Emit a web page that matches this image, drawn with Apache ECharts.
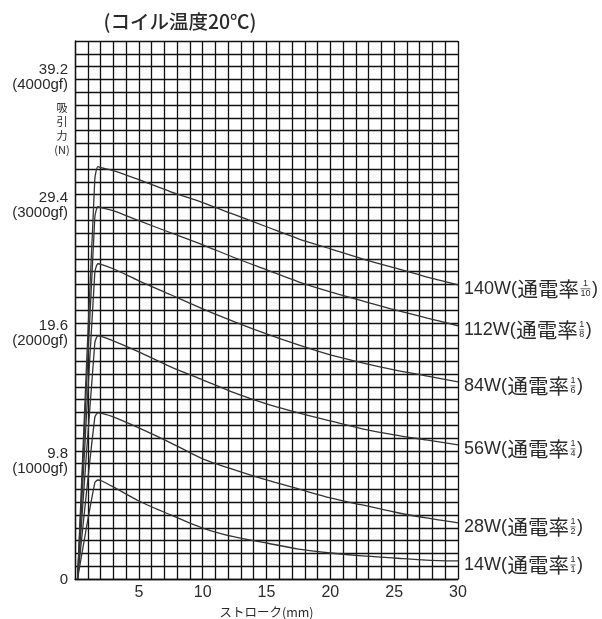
<!DOCTYPE html>
<html>
<head>
<meta charset="utf-8">
<script src="https://cdn.jsdelivr.net/npm/echarts@6/dist/echarts.min.js"></script>
<style>
html,body{margin:0;padding:0;background:#fff;}
#c{width:602px;height:619px;}
</style>
</head>
<body>
<div id="c"></div>
<script>
// ---- data ----
const stroke = [0.2, 1.55, 1.8, 2.1, 3, 5, 7.5, 10, 12.5, 15, 17.5, 20, 22.5, 25, 27.5, 30]; // mm
const force140 = [0, 3120, 3219, 3210, 3188, 3117, 3023, 2938, 2844, 2750, 2656, 2578, 2500, 2430, 2359, 2297]; // gf
const force112 = [0, 2820, 2906, 2898, 2875, 2797, 2703, 2609, 2508, 2414, 2320, 2242, 2172, 2102, 2039, 1977];
const force84  = [0, 2390, 2461, 2455, 2422, 2328, 2219, 2109, 2008, 1914, 1828, 1750, 1688, 1633, 1586, 1539];
const force56  = [0, 1840, 1898, 1893, 1859, 1773, 1656, 1555, 1453, 1367, 1297, 1234, 1172, 1125, 1086, 1047];
const force28  = [0, 1260, 1297, 1293, 1266, 1180, 1063, 938, 852, 773, 703, 633, 578, 523, 477, 438];
const force14  = [0, 750, 773, 765, 719, 609, 500, 398, 328, 281, 234, 203, 180, 164, 148, 141];
const seriesNames = ['140W', '112W', '84W', '56W', '28W', '14W'];
const dutyNum = ['1', '1', '1', '1', '1', '1'];
const dutyDen = ['10', '8', '6', '4', '2', '1'];
const xTickLabels = ['5', '10', '15', '20', '25', '30'];
const yTickN = ['0', '9.8', '19.6', '29.4', '39.2'];
const yTickGf = ['', '(1000gf)', '(2000gf)', '(3000gf)', '(4000gf)'];
const titleText = '(コイル温度20℃)';
const xName = 'ストローク(mm)';
const yName = '吸\n引\n力\n(N)';
const dutyWord = '通電率';

const forces = [force140, force112, force84, force56, force28, force14];
const FONT = "'Liberation Sans', Arial, 'Noto Sans CJK JP', sans-serif";
const JFONT = "'Noto Sans CJK JP', sans-serif";
const INK = '#2a2a2a';

const chart = echarts.init(document.getElementById('c'));

const option = {
  animation: false,
  backgroundColor: '#fff',
  grid: { left: 75, right: 144, top: 41, bottom: 40, outerBoundsMode: 'none', containLabel: false },
  xAxis: {
    type: 'value', min: 0, max: 30, interval: 1,
    axisLine: { show: true, lineStyle: { color: '#111', width: 1.3 } },
    axisTick: { show: false },
    splitLine: { show: true, lineStyle: { color: '#111', width: 1.3 } },
    axisLabel: {
      margin: 6, fontSize: 16, color: INK, fontFamily: FONT,
      formatter: v => {
        const i = xTickLabels.indexOf(String(v));
        return i >= 0 ? xTickLabels[i] : '';
      }
    },
    name: xName, nameLocation: 'middle', nameGap: 27,
    nameTextStyle: { fontSize: 12.5, color: INK, fontFamily: JFONT }
  },
  yAxis: {
    type: 'value', min: 0, max: 4200, interval: 100,
    axisLine: { show: true, lineStyle: { color: '#111', width: 1.3 } },
    axisTick: { show: false },
    splitLine: { show: true, lineStyle: { color: '#111', width: 1.3 } },
    axisLabel: {
      margin: 7, color: INK, fontFamily: FONT, align: 'right', verticalAlign: 'top',
      formatter: v => {
        if (v % 1000 !== 0) return '';
        const k = v / 1000;
        if (k === 0) return '{z|' + yTickN[0] + '}';
        return '{a|' + yTickN[k] + '}\n{b|' + yTickGf[k] + '}';
      },
      rich: {
        z: { fontSize: 15, lineHeight: 2, color: INK, fontFamily: FONT },
        a: { fontSize: 15, lineHeight: 6, color: INK, fontFamily: FONT },
        b: { fontSize: 15, lineHeight: 24, color: INK, fontFamily: FONT }
      }
    }
  },
  series: forces.map((f, i) => ({
    name: seriesNames[i],
    type: 'line',
    data: stroke.map((x, j) => [x, f[j]]),
    showSymbol: false,
    smooth: 0.25,
    lineStyle: { color: '#333', width: 1.3 },
    z: 5
  }))
};
chart.setOption(option);

// ---- labels (text positioned through the chart's own scale) ----
const cv = document.createElement('canvas').getContext('2d');
function tw(text, size, fam) { cv.font = size + 'px ' + (fam || FONT); return cv.measureText(text).width; }

const MAIN = 18, CJK = 20.5, FR = 9;
const g = [];
g.push({ type: 'text', x: 180, y: 22, style: { text: titleText, fontSize: 19.5, fontWeight: 500, fontFamily: JFONT, fill: INK, textAlign: 'center', textVerticalAlign: 'middle' } });
g.push({ type: 'text', x: 62, y: 101, style: { text: yName, fontSize: 11, lineHeight: 14, fontFamily: JFONT, fill: INK, textAlign: 'center', textVerticalAlign: 'top' } });

forces.forEach((f, i) => {
  const p = chart.convertToPixel({ gridIndex: 0 }, [stroke[stroke.length - 1], f[f.length - 1]]);
  const x0 = p[0] + 6, y0 = p[1] + 4;
  const lat = seriesNames[i] + '(';
  const w1 = tw(lat, MAIN);
  g.push({ type: 'text', x: x0, y: y0, style: { text: lat, fontSize: MAIN, fontFamily: FONT, fill: INK, textAlign: 'left', textVerticalAlign: 'middle' } });
  const w2 = tw(dutyWord, CJK, JFONT);
  g.push({ type: 'text', x: x0 + w1 + 0.5, y: y0, style: { text: dutyWord, fontSize: CJK, fontFamily: JFONT, fill: INK, textAlign: 'left', textVerticalAlign: 'middle' } });
  const fw = Math.max(tw(dutyDen[i], FR), 5);
  const fx = x0 + w1 + w2 + 2 + fw / 2;
  g.push({ type: 'text', x: fx, y: y0 - 5, style: { text: dutyNum[i], fontSize: FR, fontFamily: FONT, fill: INK, textAlign: 'center', textVerticalAlign: 'middle' } });
  g.push({ type: 'line', shape: { x1: fx - fw / 2, y1: y0, x2: fx + fw / 2, y2: y0 }, style: { stroke: INK, lineWidth: 0.7 } });
  g.push({ type: 'text', x: fx, y: y0 + 5, style: { text: dutyDen[i], fontSize: FR, fontFamily: FONT, fill: INK, textAlign: 'center', textVerticalAlign: 'middle' } });
  g.push({ type: 'text', x: fx + fw / 2 + 1.5, y: y0, style: { text: ')', fontSize: MAIN, fontFamily: FONT, fill: INK, textAlign: 'left', textVerticalAlign: 'middle' } });
});
chart.setOption({ graphic: g });
</script>
</body>
</html>
